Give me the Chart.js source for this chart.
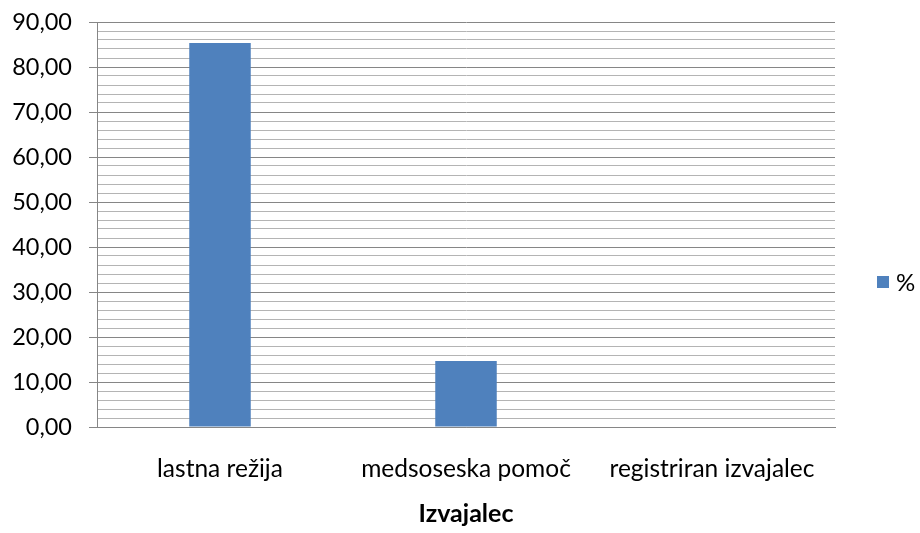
<!DOCTYPE html>
<html>
<head>
<meta charset="utf-8">
<style>
  html, body { margin: 0; padding: 0; background: #fff; }
  #wrap { width: 920px; height: 533px; }
</style>
</head>
<body>
  <div id="wrap">
    <canvas id="myChart"></canvas>
  </div>

<script src="https://cdn.jsdelivr.net/npm/chart.js@4/dist/chart.umd.min.js"></script>

<script>
  // data
  const categories = ['lastna režija', 'medsoseska pomoč', 'registriran izvajalec']
  const seriesName = '%'
  const percentValues = [85.33, 14.67, 0]
  const axisTitle = 'Izvajalec'
  const yMin = 0
  const yMax = 90
  const majorStep = 10
  const minorStep = 2

  const barColor = '#4f81bd'
  const majorGrid = '#868686'
  const minorGrid = '#b4b4b4'
  const fontFamily = 'Lato, "Open Sans", sans-serif'

  const isMajor = v => Math.abs(v % majorStep) < 1e-6

  // simple legend drawn to the right of the plot, like the spreadsheet one
  const sideLegend = {
    id: 'sideLegend',
    afterDraw(chart) {
      const ctx = chart.ctx
      const ds = chart.data.datasets[0]
      ctx.save()
      ctx.fillStyle = ds.backgroundColor
      ctx.fillRect(877, 276, 12, 12)
      ctx.fillStyle = '#000'
      ctx.font = '24px ' + fontFamily
      ctx.textBaseline = 'middle'
      ctx.textAlign = 'left'
      ctx.fillText(ds.label, 896, 283)
      ctx.restore()
    }
  }

  const ctx = document.getElementById('myChart')

  new Chart(ctx, {
    type: 'bar',
    data: {
      labels: categories,
      datasets: [{
        label: seriesName,
        data: percentValues,
        backgroundColor: barColor,
        borderWidth: 0,
        barPercentage: 0.25,
        categoryPercentage: 1
      }]
    },
    options: {
      responsive: true,
      maintainAspectRatio: false,
      animation: false,
      layout: { padding: { top: 22, right: 85, left: 0, bottom: 0 } },
      plugins: {
        legend: { display: false },
        tooltip: { enabled: false }
      },
      scales: {
        x: {
          grid: { display: false, drawTicks: false },
          border: { display: true, color: majorGrid, width: 1 },
          ticks: {
            color: '#000',
            padding: 27,
            font: { family: fontFamily, size: 24.5 }
          },
          title: {
            display: true,
            text: axisTitle,
            color: '#000',
            padding: { top: 10, bottom: 4 },
            font: { family: fontFamily, size: 25, weight: 'bold' }
          },
          afterFit: scale => { scale.height = 106 }
        },
        y: {
          min: yMin,
          max: yMax,
          grid: {
            color: c => isMajor(c.tick.value) ? majorGrid : minorGrid,
            tickColor: c => isMajor(c.tick.value) ? majorGrid : 'rgba(0,0,0,0)',
            tickLength: 8,
            lineWidth: 1
          },
          border: { display: true, color: majorGrid, width: 1 },
          ticks: {
            stepSize: minorStep,
            autoSkip: false,
            color: '#000',
            padding: 17,
            font: { family: fontFamily, size: 23.5 },
            callback: v => isMajor(v) ? v.toFixed(2).replace('.', ',') : ''
          },
          afterFit: scale => {
            scale.width = 97
            scale.paddingTop = 0
            scale.paddingBottom = 0
          }
        }
      }
    },
    plugins: [sideLegend]
  })
</script>
</body>
</html>
